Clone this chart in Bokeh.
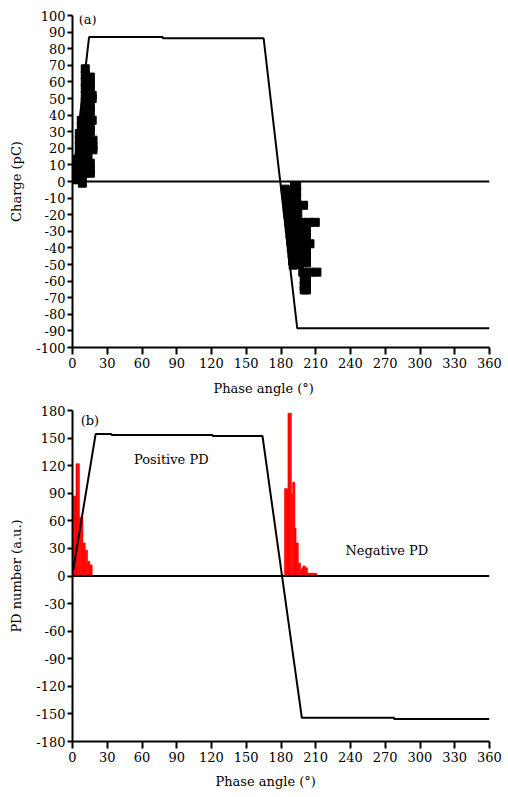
from bokeh.plotting import figure
from bokeh.layouts import column
from bokeh.models import Range1d, Label, FixedTicker, Span, Title
from bokeh.embed import file_html
from bokeh.resources import INLINE

FONT = "DejaVu Serif"

# ---------------- data: panel (a) ----------------
x_ticks = list(range(0, 361, 30))
a_y_ticks = list(range(-100, 101, 10))

trace_a_phase = [0, 14.3, 78, 78, 165, 194, 360]
trace_a_charge = [0, 87, 87, 86.3, 86.3, -88.4, -88.4]

pos_pd_phase = [1, 1, 1, 1, 4, 4, 4, 4, 5.9, 5.9, 5.9, 5.9, 7.6, 7.6,
                8.5, 8.5, 8.5, 8.5, 8.5, 8.5, 8.5, 8.5, 8.5,
                11, 11, 11, 11, 11, 11, 11, 11, 11, 11, 11, 11, 11, 11, 11, 11, 11,
                15.4, 15.4, 15.4, 15.4, 15.4, 15.4, 15.4, 15.4, 15.4, 15.4,
                17, 17, 17, 17.7, 17.7, 17.7, 13.4, 13, 13, 13, 13, 13, 13]
pos_pd_charge = [13.4, 9, 5, 1.1, 13, 9, 5, 1.1, 28.9, 25, 21, 17, 36.9, 33,
                 -1, 3, 7, 11, 15, 19, 23, 27, 31,
                 67.9, 64, 60, 56, 52, 48, 44, 40, 36, 32, 28, 24, 20, 16, 12, 8, 5,
                 62.9, 59, 56, 45, 42, 34, 30, 11, 7, 5,
                 51.9, 50, 36.9, 24.9, 21, 19.1, 15, 60, 50, 40, 30, 20, 10]

neg_pd_phase = [183.7, 184.2, 184.8, 185.4, 186, 186.6, 187.2, 187.8, 188.4, 188.9, 189.5, 190.1, 190.5,
                191.7, 193.5, 193.5, 193.5, 189, 189, 189, 189, 189, 189, 189, 189,
                199.5, 194.5, 194.5, 209.6, 204, 198, 193, 193, 193, 193, 193, 193, 193,
                202, 197, 202, 197, 205, 199, 202, 197, 202, 197, 202, 196,
                211, 205, 198.8, 202, 200, 202, 200, 202, 200]
neg_pd_charge = [-4.6, -8, -12, -16, -20, -24, -28, -32, -36, -40, -44, -48, -50.4,
                 -2.6, -2.6, -6, -10, -6, -10, -14, -18, -22, -26, -30, -34,
                 -14.3, -14.3, -19.5, -24.6, -24.6, -24.6, -24, -28, -32, -36, -40, -44, -48,
                 -29, -29, -33, -33, -37.5, -37.5, -42, -42, -46, -46, -49, -50,
                 -54.6, -54.6, -54.6, -59.4, -59.4, -63, -63, -65.3, -65.3]

# ---------------- data: panel (b) ----------------
b_y_ticks = list(range(-180, 181, 30))

trace_b_phase = [0, 20, 33.7, 33.7, 121, 121, 164, 198, 277.6, 277.6, 360]
trace_b_value = [2, 154.5, 154.5, 153.4, 153.4, 152.3, 152.3, -154.2, -154.2, -155.6, -155.6]

pos_bin = [0, 1, 2, 3, 4, 5, 6, 7, 8, 9, 10, 11, 12, 13, 14, 15, 16]
pos_count = [87, 87, 87, 122, 122, 122, 64, 64, 64, 36, 36, 28, 28, 16, 16, 12, 12]

neg_bin = [183, 184, 185, 186, 187, 188, 189, 190, 191, 192, 193, 194, 195, 196,
           197, 198, 199, 200, 201, 202, 203, 204, 205, 206, 207, 208, 209, 210]
neg_count = [95, 95, 95, 177, 177, 177, 89, 102, 102, 52, 36, 36, 14, 14,
             7, 9, 11, 11, 9, 9, 3, 3, 3, 3, 3, 3, 3, 3]


def style(p, yticks, ylabel, xlabel_offset, xlabel_standoff):
    p.xgrid.visible = False
    p.ygrid.visible = False
    p.outline_line_color = None
    p.background_fill_color = "white"
    p.border_fill_color = "white"
    for ax in (p.xaxis[0], p.yaxis[0]):
        ax.axis_line_width = 2
        ax.axis_line_color = "black"
        ax.major_tick_line_width = 2
        ax.major_tick_line_color = "black"
        ax.minor_tick_line_color = None
        ax.major_tick_in = 0
        ax.major_label_text_font = FONT
        ax.major_label_text_font_size = "13px"
        ax.major_label_text_color = "black"
    p.xaxis[0].ticker = FixedTicker(ticks=x_ticks)
    p.yaxis[0].ticker = FixedTicker(ticks=yticks)
    p.xaxis[0].major_label_overrides = {t: str(t) for t in x_ticks}
    p.yaxis[0].major_label_overrides = {t: str(t) for t in yticks}
    p.xaxis[0].major_tick_out = 7
    p.yaxis[0].major_tick_out = 5
    p.xaxis[0].major_label_standoff = 3
    p.yaxis[0].major_label_standoff = 2
    p.yaxis[0].axis_label = ylabel
    p.yaxis[0].axis_label_text_font = FONT
    p.yaxis[0].axis_label_text_font_size = "13px"
    p.yaxis[0].axis_label_text_font_style = "normal"
    p.yaxis[0].axis_label_text_color = "black"
    p.yaxis[0].axis_label_standoff = 9
    p.add_layout(Span(location=0, dimension="width", line_color="black", line_width=2))
    p.add_layout(Title(text="Phase angle (°)", align="left", offset=xlabel_offset,
                       vertical_align="bottom",
                       text_font=FONT, text_font_size="13px", text_font_style="normal",
                       text_color="black", standoff=xlabel_standoff), "below")


# ---------------- panel (a) ----------------
pa = figure(width=504, height=405, x_range=Range1d(0, 360), y_range=Range1d(-100, 100),
            output_backend="svg", toolbar_location=None,
            min_border_left=72, min_border_right=15, min_border_top=15, min_border_bottom=58)
style(pa, a_y_ticks, "Charge (pC)", 141, 17)
pa.line(trace_a_phase, trace_a_charge, line_color="black", line_width=2)
pa.scatter(pos_pd_phase, pos_pd_charge, marker="square", size=8, fill_color="black", line_color="black")
pa.scatter(neg_pd_phase, neg_pd_charge, marker="square", size=8, fill_color="black", line_color="black")
pa.add_layout(Label(x=5.4, y=97.3, text="(a)", text_font=FONT, text_font_size="13px",
                    text_baseline="middle", text_align="left", text_color="black"))

# ---------------- panel (b) ----------------
pb = figure(width=504, height=392, x_range=Range1d(0, 360), y_range=Range1d(-180, 180),
            output_backend="svg", toolbar_location=None,
            min_border_left=71, min_border_right=13, min_border_top=5, min_border_bottom=56)
style(pb, b_y_ticks, "PD number (a.u.)", 143, 15)
pb.quad(left=pos_bin, right=[b + 1 for b in pos_bin], bottom=0, top=pos_count,
        fill_color="red", line_color="red", line_width=0.6)
pb.quad(left=neg_bin, right=[b + 1 for b in neg_bin], bottom=0, top=neg_count,
        fill_color="red", line_color="red", line_width=0.6)
pb.line(trace_b_phase, trace_b_value, line_color="black", line_width=2)
pb.add_layout(Label(x=7.1, y=169.2, text="(b)", text_font=FONT, text_font_size="13px",
                    text_baseline="middle", text_align="left", text_color="black"))
pb.add_layout(Label(x=53.1, y=126.8, text="Positive PD", text_font=FONT, text_font_size="13px",
                    text_baseline="middle", text_align="left", text_color="black"))
pb.add_layout(Label(x=235.6, y=27.7, text="Negative PD", text_font=FONT, text_font_size="13px",
                    text_baseline="middle", text_align="left", text_color="black"))

layout = column(pa, pb, spacing=0)
open("out.html", "w").write(file_html(layout, INLINE))
